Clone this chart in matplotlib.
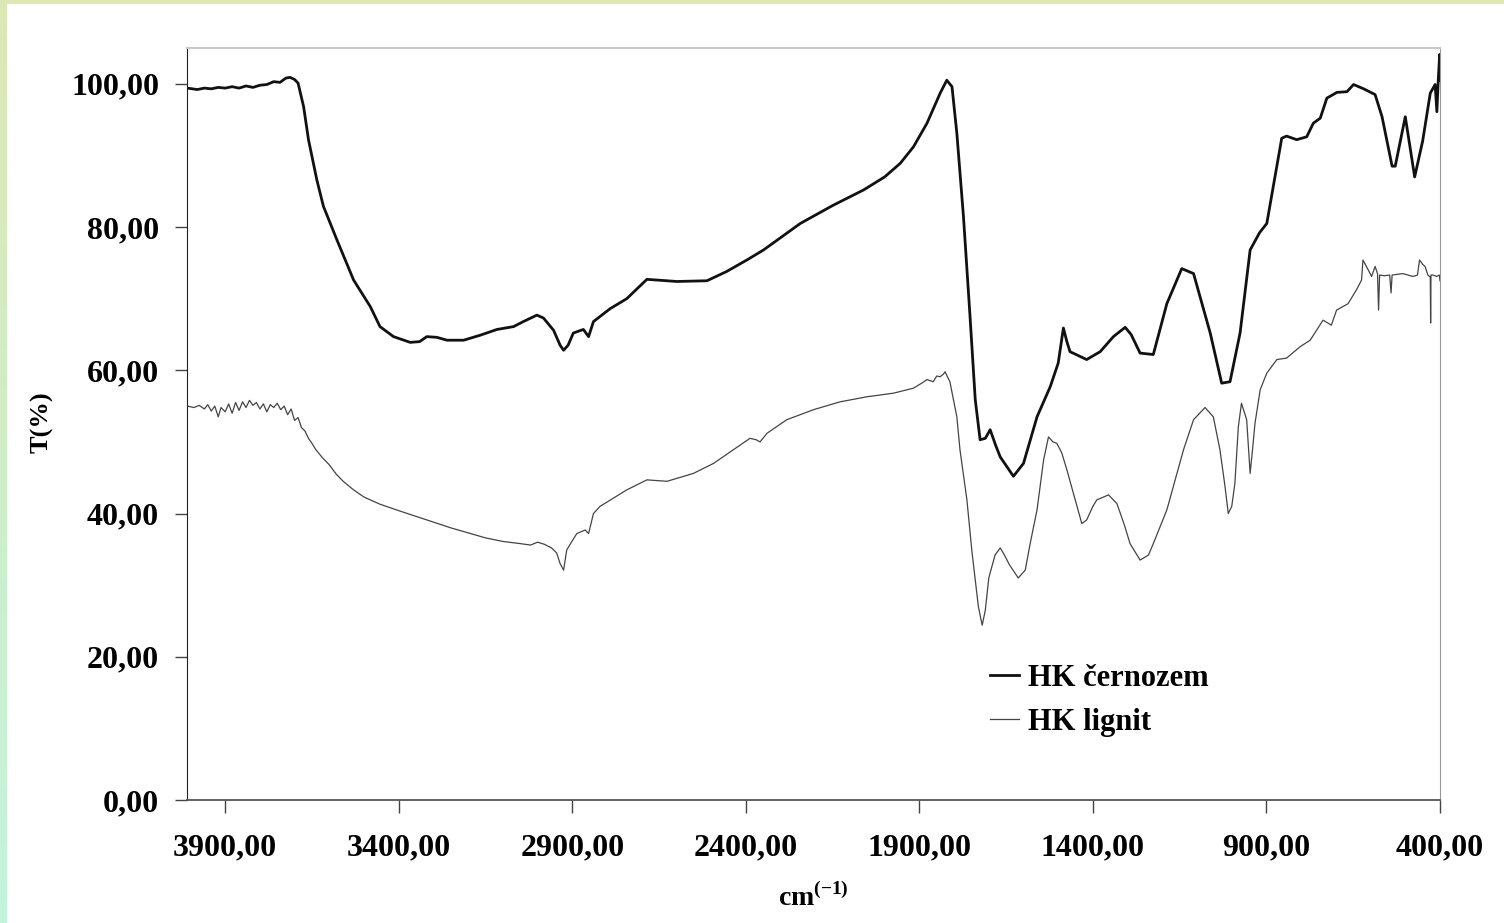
import numpy as np
import matplotlib
matplotlib.use("Agg")
import matplotlib.pyplot as plt
from matplotlib.ticker import FuncFormatter

# ---------------- data ----------------
cer_wn = [4009, 3980, 3960, 3940, 3920, 3900, 3880, 3860, 3840, 3820, 3800, 3780, 3760,
          3742, 3725, 3713, 3700, 3690, 3674, 3660, 3636, 3617, 3578, 3530, 3482, 3454,
          3415, 3367, 3340, 3319, 3290, 3261, 3213, 3165, 3117, 3069, 3041, 3002, 2983,
          2954, 2935, 2925, 2912, 2897, 2868, 2853, 2839, 2791, 2743, 2685, 2599, 2512,
          2455, 2397, 2349, 2243, 2150, 2060, 2000, 1955, 1917, 1878, 1840, 1821, 1806,
          1792, 1773, 1754, 1739, 1725, 1710, 1696, 1680, 1667, 1629, 1600, 1561, 1523,
          1500, 1485, 1475, 1466, 1418, 1379, 1341, 1307, 1290, 1264, 1226, 1187, 1144,
          1110, 1062, 1029, 1005, 976, 947, 920, 899, 856, 842, 813, 784, 765, 745, 726,
          697, 668, 649, 620, 587, 567, 538, 529, 500, 473, 450, 428, 414, 409, 405, 401, 400]
cer_t = [99.4, 99.2, 99.4, 99.3, 99.5, 99.4, 99.6, 99.4, 99.7, 99.5, 99.8, 99.9, 100.3,
         100.2, 100.8, 100.9, 100.6, 100.1, 96.8, 92.2, 86.6, 82.9, 78.2, 72.6, 68.9, 66.1,
         64.7, 63.9, 64.0, 64.7, 64.6, 64.2, 64.2, 64.9, 65.7, 66.1, 66.8, 67.7, 67.3,
         65.6, 63.5, 62.8, 63.5, 65.2, 65.7, 64.7, 66.8, 68.6, 70.0, 72.7, 72.4, 72.5,
         73.8, 75.4, 76.8, 80.5, 83.0, 85.2, 87.0, 88.9, 91.2, 94.5, 98.7, 100.5, 99.6,
         93.1, 81.5, 67.5, 55.9, 50.3, 50.5, 51.7, 49.5, 47.9, 45.2, 47.0, 53.5, 57.7,
         61.0, 65.9, 64.0, 62.6, 61.5, 62.6, 64.7, 66.0, 65.0, 62.4, 62.2, 69.3, 74.2,
         73.5, 65.2, 58.2, 58.4, 65.2, 76.8, 79.2, 80.5, 92.4, 92.7, 92.2, 92.6, 94.5, 95.2, 98.0,
         98.8, 98.9, 99.9, 99.3, 98.5, 95.4, 88.5, 88.5, 95.4, 87.0, 92.0, 98.7, 99.9, 96.1, 100.5, 104.1, 100.5]

lig_wn = [4009, 3990, 3975, 3960, 3950, 3940, 3930, 3920, 3912, 3900, 3890, 3880, 3870,
          3860, 3850, 3840, 3830, 3820, 3810, 3800, 3790, 3780, 3770, 3760, 3750, 3740,
          3730, 3720, 3710, 3700, 3690, 3680, 3670, 3660, 3650, 3640, 3620, 3600, 3580,
          3560, 3530, 3500, 3454, 3400, 3350, 3300, 3250, 3200, 3150, 3100, 3050, 3020,
          3000, 2980, 2960, 2945, 2935, 2925, 2916, 2900, 2887, 2863, 2853, 2839, 2820,
          2780, 2743, 2685, 2627, 2551, 2493, 2436, 2388, 2370, 2359, 2339, 2282, 2205,
          2128, 2051, 1975, 1917, 1890, 1878, 1860, 1850, 1840, 1830, 1826, 1812, 1792,
          1783, 1763, 1749, 1730, 1719, 1710, 1700, 1682, 1667, 1655, 1640, 1615, 1595,
          1580, 1561, 1542, 1528, 1515, 1504, 1490, 1475, 1456, 1432, 1418, 1400, 1389,
          1355, 1331, 1310, 1293, 1264, 1240, 1226, 1187, 1139, 1110, 1077, 1053, 1034,
          1020, 1010, 1000, 991, 981, 972, 957, 947, 940, 933, 918, 899, 870, 842, 803,
          774, 737, 713, 698, 665, 641, 626, 622, 612, 597, 587, 580, 577, 574, 560, 545,
          541, 538, 507, 478, 465, 459, 450, 443, 435, 428, 427, 426, 420, 410, 402, 400]
lig_t = [55.0, 54.8, 55.1, 54.6, 55.2, 54.3, 55.0, 53.5, 54.8, 54.2, 55.3, 54.0, 55.5,
         54.4, 55.6, 54.8, 55.8, 55.1, 55.5, 54.6, 55.3, 54.2, 55.2, 54.8, 55.4, 54.5,
         55.0, 53.8, 54.6, 53.0, 53.4, 52.0, 51.5, 50.5, 49.8, 49.0, 47.8, 46.8, 45.5,
         44.5, 43.3, 42.3, 41.3, 40.4, 39.6, 38.8, 38.0, 37.3, 36.6, 36.1, 35.8, 35.6,
         36.0, 35.7, 35.2, 34.5, 33.0, 32.1, 34.9, 36.2, 37.2, 37.7, 37.2, 40.0, 41.0,
         42.2, 43.3, 44.7, 44.5, 45.6, 47.0, 48.9, 50.5, 50.3, 50.0, 51.2, 53.1, 54.5,
         55.6, 56.3, 56.8, 57.5, 58.3, 58.7, 58.4, 59.2, 59.1, 59.5, 59.8, 58.4, 53.5,
         48.9, 41.9, 34.9, 27.0, 24.4, 26.5, 31.0, 34.2, 35.2, 34.2, 32.8, 31.0, 32.1,
         36.0, 40.5, 47.5, 50.7, 50.0, 49.8, 48.5, 46.1, 42.8, 38.6, 39.1, 41.0, 41.9,
         42.6, 41.4, 38.5, 35.8, 33.5, 34.2, 35.8, 40.5, 48.9, 53.1, 54.8, 53.5, 48.9,
         44.0, 40.0, 41.0, 44.2, 52.1, 55.4, 53.1, 45.6, 49.0, 52.6, 57.3, 59.6, 61.5, 61.7, 63.3,
         64.2, 67.0, 66.3, 68.4, 69.3, 71.2, 72.6, 75.4, 74.5, 73.1, 74.5, 73.5, 68.4, 73.3, 73.2, 73.3,
         70.8, 73.3, 73.5, 73.1, 73.3, 75.4, 74.8, 74.5, 73.3, 73.0, 66.6, 73.3, 73.3, 73.1, 73.3, 72.5]

x_ticks = [3900, 3400, 2900, 2400, 1900, 1400, 900, 400]
y_ticks = [0, 20, 40, 60, 80, 100]
series_labels = ["HK černozem", "HK lignit"]

# ---------------- style ----------------
plt.rcParams['font.family'] = ['Liberation Serif', 'DejaVu Serif']
plt.rcParams['font.weight'] = 'bold'
plt.rcParams['mathtext.fontset'] = 'custom'
plt.rcParams['mathtext.rm'] = 'Liberation Serif:bold'
plt.rcParams['mathtext.bf'] = 'Liberation Serif:bold'

W, H = 1504, 923
fig = plt.figure(figsize=(W / 100, H / 100), dpi=100, facecolor='white')

# decorative border (left gradient strip and top strip)
bl = fig.add_axes([0, 0, 7 / W, 1])
grad = np.linspace(0, 1, 256).reshape(-1, 1)
c_top = np.array([0xdd, 0xe8, 0xb4]) / 255
c_bot = np.array([0xc2, 0xf4, 0xdc]) / 255
img = c_top[None, None, :] * (1 - grad[:, :, None]) + c_bot[None, None, :] * grad[:, :, None]
bl.imshow(img, aspect='auto', extent=[0, 1, 1, 0])
bl.set_axis_off()
bt = fig.add_axes([0, 1 - 4 / H, 1, 4 / H])
bt.set_facecolor('#dde8b4')
bt.set_xticks([]); bt.set_yticks([])
for s in bt.spines.values():
    s.set_visible(False)

ax = fig.add_axes([187 / W, (H - 800) / H, (1440 - 187) / W, (800 - 48) / H])
ax.plot(cer_wn, cer_t, color='#111111', lw=2.0, label=series_labels[0])
ax.plot(lig_wn, lig_t, color='#444444', lw=0.9, label=series_labels[1])

ax.set_xlim(4010, 400)
ax.set_ylim(0, 105)
ax.set_xticks(x_ticks)
ax.set_yticks(y_ticks)
fmt = FuncFormatter(lambda v, p: f"{v:.2f}".replace('.', ','))
ax.xaxis.set_major_formatter(fmt)
ax.yaxis.set_major_formatter(fmt)
ax.tick_params(axis='y', direction='out', length=9, width=1, color='#444444',
               labelsize=23, pad=11, right=False)
ax.tick_params(axis='x', direction='out', length=9, width=1, color='#444444',
               labelsize=23, pad=15, top=False)
for lab in ax.get_xticklabels() + ax.get_yticklabels():
    lab.set_fontweight('bold')

ax.spines['left'].set_color('#222222')
ax.spines['bottom'].set_color('#555555')
ax.spines['bottom'].set_linewidth(1.3)
ax.spines['top'].set_color('#c8c8c8')
ax.spines['top'].set_linewidth(1.5)
ax.spines['right'].set_color('#999999')

ax.set_ylabel("T(%)", fontsize=19, fontweight='bold')
ax.yaxis.set_label_coords((54 - 187) / (1440 - 187), (800 - 422) / 752)
ax.set_xlabel(r"$\mathbf{cm}^{\mathbf{(-1)}}$", fontsize=20, labelpad=15)

leg = ax.legend(loc='upper left', bbox_to_anchor=((990 - 187) / (1440 - 187), (800 - 664) / 752),
                frameon=False, fontsize=22, handlelength=0.95, handletextpad=0.3,
                labelspacing=0.48, borderpad=0, borderaxespad=0)
for t in leg.get_texts():
    t.set_fontweight('bold')

fig.savefig("out.png", dpi=100, facecolor='white')
